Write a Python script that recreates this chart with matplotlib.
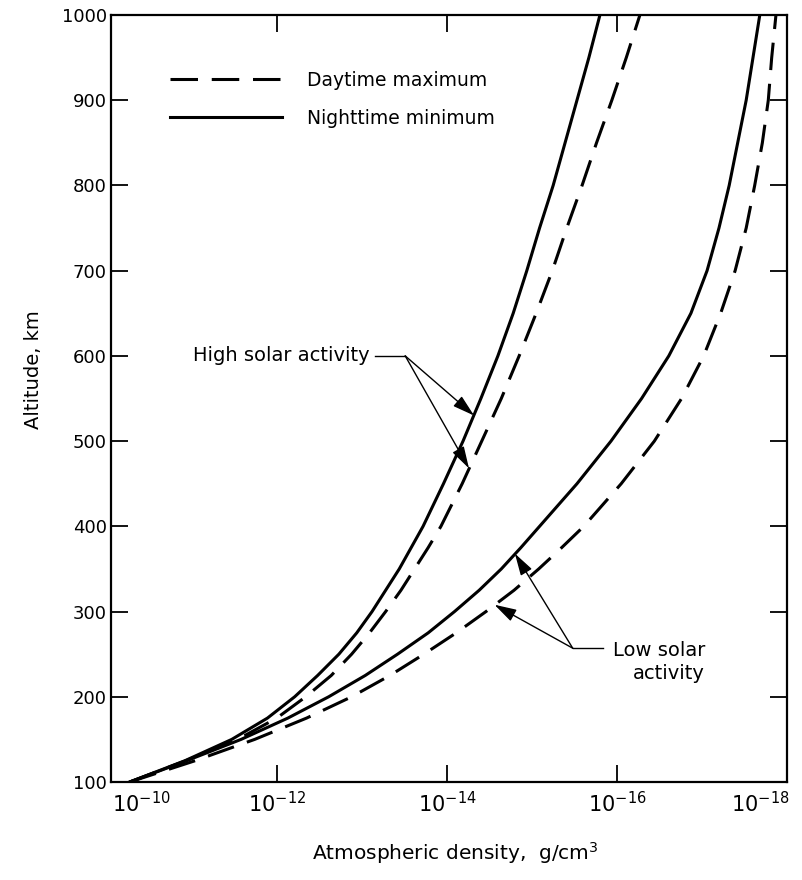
import numpy as np
import matplotlib.pyplot as plt
from matplotlib.ticker import NullLocator

# altitude (km) and log10 of density (g/cm^3)
alt = [100, 125, 150, 175, 200, 225, 250, 275, 300, 325, 350, 375, 400,
       450, 500, 550, 600, 650, 700, 750, 800, 850, 900, 950, 1000]

high_night = [-10.27, -10.92, -11.47, -11.89, -12.21, -12.48, -12.73, -12.94, -13.12,
              -13.28, -13.44, -13.58, -13.72, -13.96, -14.19, -14.40, -14.60, -14.78,
              -14.94, -15.09, -15.25, -15.39, -15.53, -15.67, -15.80]
high_day = [-10.27, -10.93, -11.54, -12.00, -12.34, -12.64, -12.88, -13.09, -13.28,
            -13.46, -13.62, -13.78, -13.93, -14.18, -14.41, -14.64, -14.85, -15.05,
            -15.24, -15.41, -15.59, -15.76, -15.94, -16.11, -16.27]
low_night = [-10.27, -10.94, -11.58, -12.13, -12.61, -13.04, -13.42, -13.78, -14.09,
             -14.38, -14.64, -14.87, -15.09, -15.53, -15.93, -16.29, -16.61, -16.87,
             -17.06, -17.20, -17.32, -17.42, -17.52, -17.60, -17.68]
low_day = [-10.27, -11.04, -11.74, -12.35, -12.88, -13.33, -13.73, -14.11, -14.46,
           -14.79, -15.08, -15.35, -15.61, -16.05, -16.44, -16.76, -17.02, -17.22,
           -17.39, -17.52, -17.62, -17.71, -17.78, -17.82, -17.87]

xtick_exp = [-10, -12, -14, -16, -18]
ytick_vals = [100, 200, 300, 400, 500, 600, 700, 800, 900, 1000]

fig = plt.figure(figsize=(8.02, 8.80), dpi=100)
ax = fig.add_axes([111 / 802, 1 - 782 / 880, 676 / 802, 767 / 880])

lw = 2.2
dash = (9, 4.5)
ax.plot(10 ** np.array(high_day), alt, color='k', lw=lw, dashes=dash, label='Daytime maximum')
ax.plot(10 ** np.array(high_night), alt, color='k', lw=lw, label='Nighttime minimum')
ax.plot(10 ** np.array(low_day), alt, color='k', lw=lw, dashes=dash)
ax.plot(10 ** np.array(low_night), alt, color='k', lw=lw)

ax.set_xscale('log')
ax.set_xlim(10 ** -10.05, 1e-18)
ax.set_ylim(100, 1000)

# axes frame and ticks
for s in ax.spines.values():
    s.set_linewidth(1.6)
ax.set_xticks([10.0 ** e for e in xtick_exp[1:-1]])
ax.xaxis.set_minor_locator(NullLocator())
ax.set_xticklabels([])
ax.set_yticks(ytick_vals)
ax.set_yticklabels([str(v) for v in ytick_vals], fontsize=13)
ax.tick_params(which='major', direction='in', length=12, width=1.3,
               top=True, right=True, pad=3)

# x tick labels (the end ones sit inside the frame in the original)
lab_pos = {-10: -10.41, -18: -17.68}
for e in xtick_exp:
    ax.text(10 ** lab_pos.get(e, e), -0.012, r'$10^{%d}$' % e, fontsize=15,
            ha='center', va='top', transform=ax.get_xaxis_transform())

ax.set_xlabel(r'Atmospheric density,  g/cm$^3$', fontsize=14.5)
ax.xaxis.set_label_coords(0.51, -0.076)
ax.set_ylabel('Altitude, km', fontsize=14)
ax.yaxis.set_label_coords(-0.1, 0.538)

ax.legend(loc='upper left', bbox_to_anchor=(0.087, 0.927), frameon=False,
          fontsize=13.5, handlelength=5.97, handletextpad=1.33, labelspacing=0.99,
          borderpad=0, borderaxespad=0)

# annotations
arw = dict(arrowstyle='-|>,head_length=0.75,head_width=0.22', color='k', lw=1.0,
           mutation_scale=18, shrinkA=0, shrinkB=0)
ax.text(10 ** -13.09, 600, 'High solar activity', fontsize=14, va='center', ha='right')
ax.plot([10 ** -13.15, 10 ** -13.51], [600, 600], color='k', lw=1.0)
ax.annotate('', xy=(10 ** -14.32, 530), xytext=(10 ** -13.51, 600), arrowprops=arw)
ax.annotate('', xy=(10 ** -14.26, 468), xytext=(10 ** -13.51, 600), arrowprops=arw)

ax.text(10 ** -15.95, 241, 'Low solar\nactivity', fontsize=14, va='center', ha='left',
        multialignment='right', linespacing=1.3)
ax.plot([10 ** -15.48, 10 ** -15.84], [257, 257], color='k', lw=1.0)
ax.annotate('', xy=(10 ** -14.80, 368), xytext=(10 ** -15.48, 257), arrowprops=arw)
ax.annotate('', xy=(10 ** -14.56, 308), xytext=(10 ** -15.48, 257), arrowprops=arw)

fig.savefig('out.png', dpi=100)
